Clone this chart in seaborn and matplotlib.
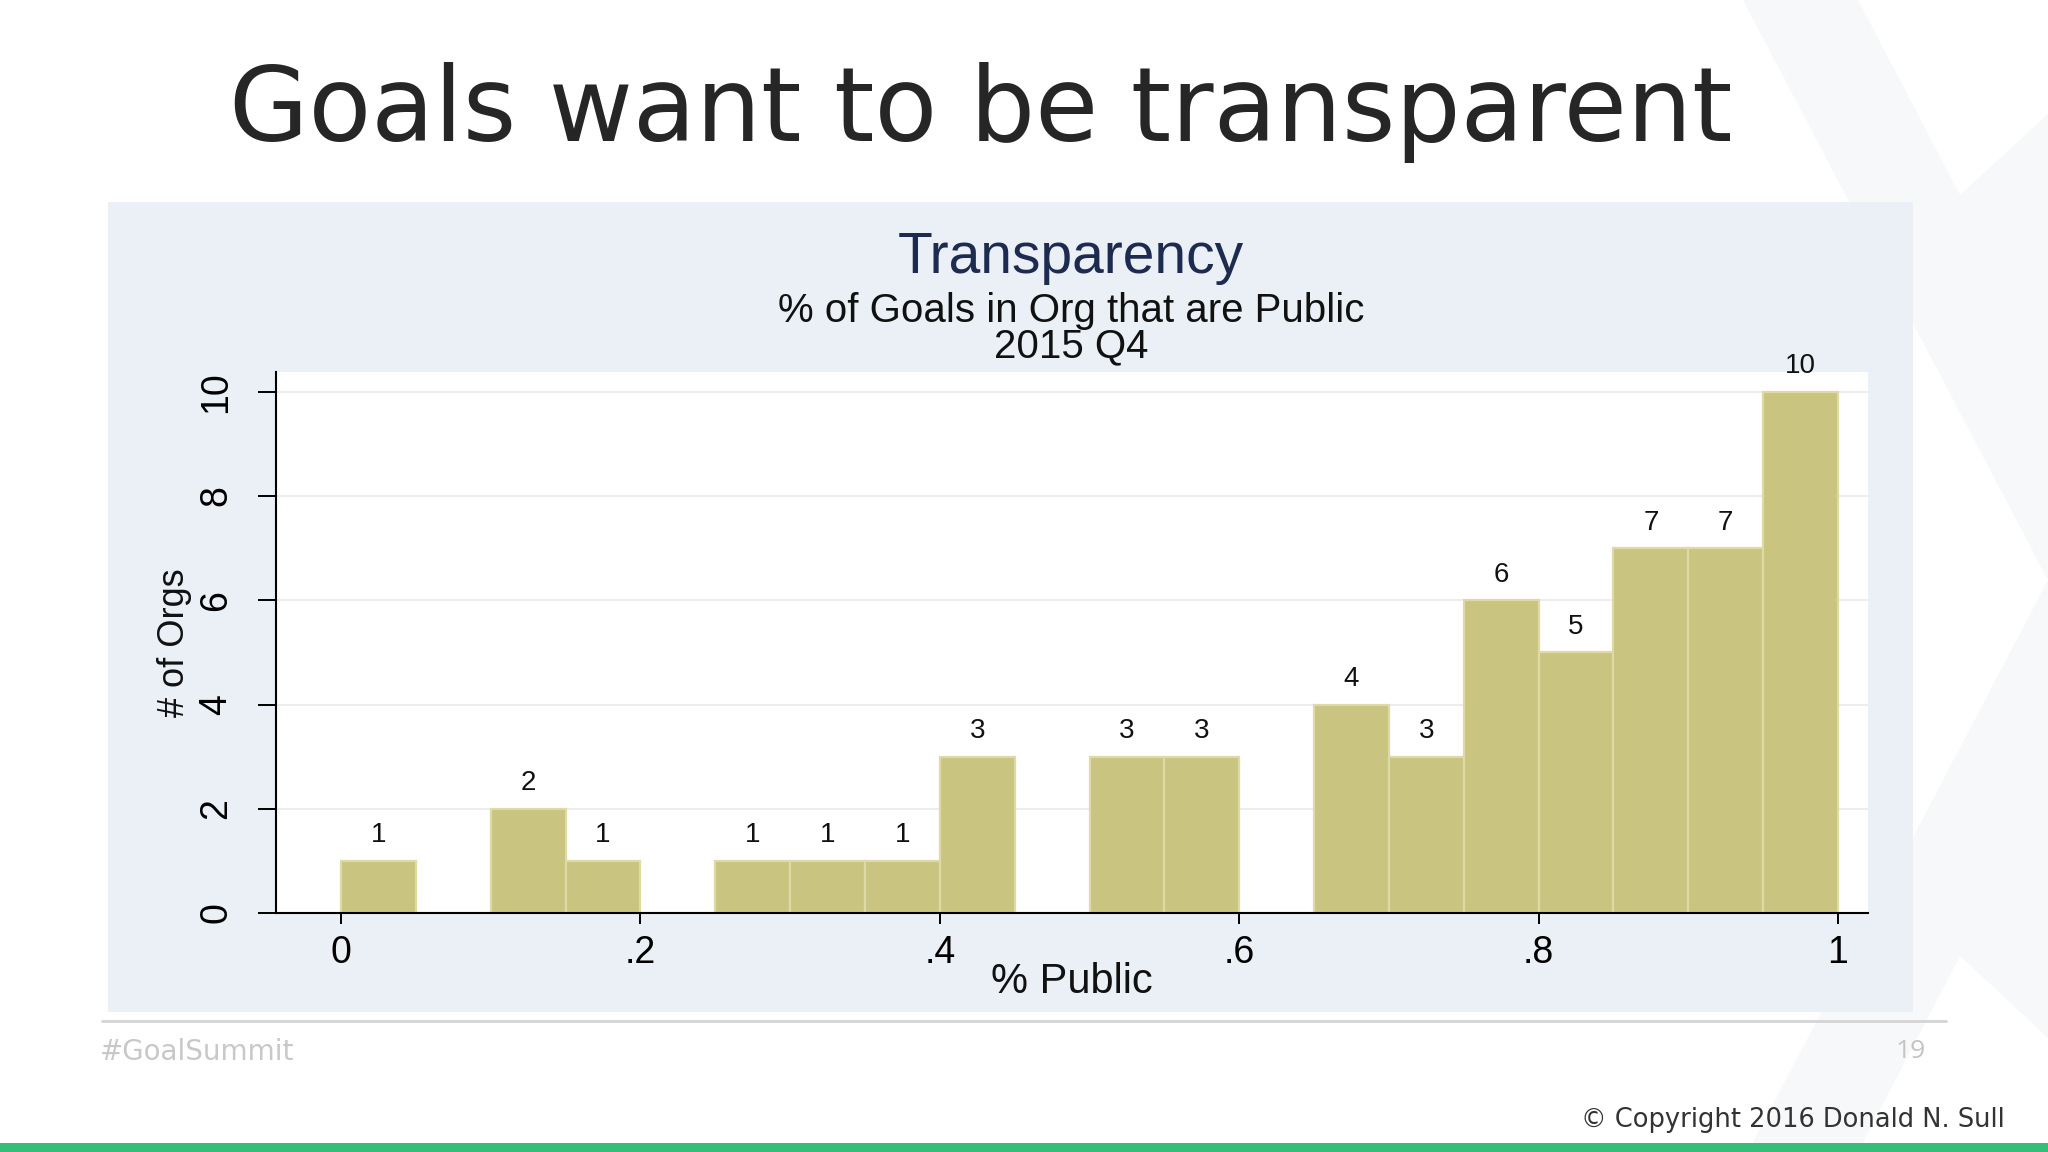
import numpy as np
import matplotlib
matplotlib.use("Agg")
import matplotlib.pyplot as plt
from matplotlib.patches import Rectangle, Polygon
import seaborn as sns

# data: 20 bins of width .05 on % public
bin_mid = [0.025, 0.075, 0.125, 0.175, 0.225, 0.275, 0.325, 0.375, 0.425, 0.475,
           0.525, 0.575, 0.625, 0.675, 0.725, 0.775, 0.825, 0.875, 0.925, 0.975]
n_orgs = [1, 0, 2, 1, 0, 1, 1, 1, 3, 0, 3, 3, 0, 4, 3, 6, 5, 7, 7, 10]
x_ticks = [0, 0.2, 0.4, 0.6, 0.8, 1.0]
x_tick_labels = ["0", ".2", ".4", ".6", ".8", "1"]
y_ticks = [0, 2, 4, 6, 8, 10]

W, H = 2048, 1152
sns.set_theme(style="white")
plt.rcParams["font.family"] = ["Liberation Sans", "DejaVu Sans"]

fig = plt.figure(figsize=(W / 100, H / 100), dpi=100)
fig.patch.set_facecolor("white")


def fx(px):
    return px / W


def fy(py):
    return 1 - py / H


# faint X logo in the slide background
logo = [(1743, 0), (1858, 0), (1960, 195), (2048, 114), (2048, 1038),
        (1960, 956), (1858, 1152), (1748, 1152), (2048, 580)]
fig.patches.append(Polygon([(fx(a), fy(b)) for a, b in logo], closed=True,
                           transform=fig.transFigure, facecolor="#F7F8F9",
                           edgecolor="none", zorder=0))

# grey-blue graph panel
fig.patches.append(Rectangle((fx(108), fy(1012)), fx(1913 - 108), (1012 - 202) / H,
                             transform=fig.transFigure, facecolor="#EAF0F5",
                             edgecolor="none", zorder=1))

# footer rule and green band
fig.add_artist(plt.Line2D([fx(102), fx(1946)], [fy(1021), fy(1021)],
                          transform=fig.transFigure, color="#D4D4D4", lw=2))
fig.patches.append(Rectangle((0, 0), 1, 9 / H, transform=fig.transFigure,
                             facecolor="#36BD79", edgecolor="none", zorder=2))

ax = fig.add_axes([fx(276), fy(913), fx(1868 - 276), (913 - 372) / H])
ax.set_zorder(5)
ax.set_facecolor("white")

sns.histplot(x=bin_mid, weights=n_orgs, bins=20, binrange=(0, 1), ax=ax,
             color="#C9C480", edgecolor="#DDDAA6", linewidth=1.6, alpha=1)

labels = [str(c) if c > 0 else "" for c in n_orgs]
ax.bar_label(ax.containers[0], labels=labels, padding=9, fontsize=20,
             color="#111111")

ax.set_xlim(-0.0434, 1.020)
ax.set_ylim(0, 10.38)
ax.set_xticks(x_ticks)
ax.set_xticklabels(x_tick_labels)
ax.set_yticks(y_ticks)
ax.set_yticklabels([str(v) for v in y_ticks])
ax.set_axisbelow(True)
ax.yaxis.grid(True, color="#ECECEC", lw=1.3)
ax.xaxis.grid(False)

for s in ["top", "right"]:
    ax.spines[s].set_visible(False)
for s in ["left", "bottom"]:
    ax.spines[s].set_visible(True)
    ax.spines[s].set_color("black")
    ax.spines[s].set_linewidth(1.5)

ax.tick_params(axis="x", length=8, width=1.4, color="black", pad=8,
               labelsize=27, labelcolor="black", bottom=True)
ax.tick_params(axis="y", length=13, width=1.4, color="black", pad=17,
               labelsize=27, labelcolor="black", left=True, labelrotation=90)
for t in ax.get_yticklabels():
    t.set_verticalalignment("center")
ax.set_xlabel("")
ax.set_ylabel("")

# graph titles (Stata style)
fig.text(fx(1071), fy(273), "Transparency", ha="center", va="baseline",
         fontsize=41, color="#1E2B50")
fig.text(fx(1071), fy(322), "% of Goals in Org that are Public", ha="center",
         va="baseline", fontsize=29, color="#111111")
fig.text(fx(1071), fy(357), "2015 Q4", ha="center", va="baseline",
         fontsize=29, color="#111111")
fig.text(fx(1072), fy(993), "% Public", ha="center", va="baseline",
         fontsize=30, color="#111111")
fig.text(fx(174), fy(643), "# of Orgs", ha="center", va="center", rotation=90,
         fontsize=26, color="#111111")

# slide text
fig.text(fx(981), fy(141), "Goals want to be transparent", ha="center",
         va="baseline", fontsize=74, color="#262626", family="DejaVu Sans")
fig.text(fx(100), fy(1052), "#GoalSummit", ha="left", va="center",
         fontsize=20, color="#C8C8C8", family="DejaVu Sans")
fig.text(fx(1926), fy(1052), "19", ha="right", va="center",
         fontsize=19, color="#C4C4C4", family="Open Sans")
fig.text(fx(2005), fy(1127), "© Copyright 2016 Donald N. Sull", ha="right",
         va="baseline", fontsize=18.5, color="#333333", family="DejaVu Sans")

fig.savefig("out.png", dpi=100, facecolor=fig.get_facecolor())
